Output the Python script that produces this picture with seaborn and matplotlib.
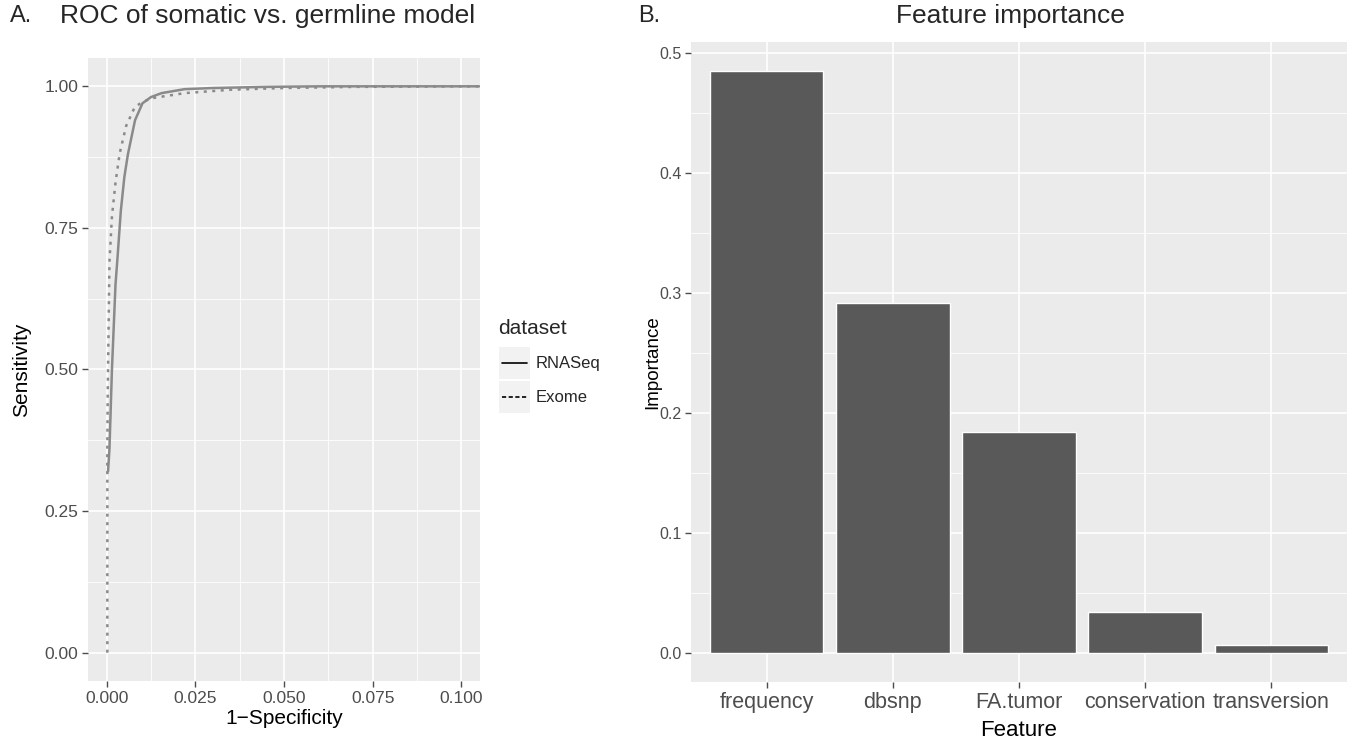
import numpy as np
import pandas as pd
import seaborn as sns
import matplotlib.pyplot as plt
from matplotlib.lines import Line2D
from matplotlib.patches import Rectangle
from matplotlib.ticker import MultipleLocator, FormatStrFormatter

# ROC curves (1-specificity, sensitivity)
rnaseq_fpr = [0.0004, 0.0008, 0.0015, 0.0025, 0.0031, 0.0040, 0.0050, 0.0060, 0.0080,
              0.0101, 0.0125, 0.0155, 0.0220, 0.0300, 0.0450, 0.0600, 0.1050]
rnaseq_tpr = [0.32, 0.36, 0.50, 0.65, 0.70, 0.78, 0.84, 0.88, 0.94,
              0.970, 0.981, 0.988, 0.995, 0.997, 0.999, 1.000, 1.000]
exome_fpr = [0.0002, 0.0002, 0.0003, 0.0005, 0.0008, 0.0015, 0.0025, 0.0037, 0.0055,
             0.0079, 0.0100, 0.0127, 0.0220, 0.0350, 0.0500, 0.0700, 0.1050]
exome_tpr = [0.00, 0.35, 0.45, 0.55, 0.69, 0.77, 0.83, 0.882, 0.93,
             0.963, 0.972, 0.979, 0.988, 0.994, 0.997, 0.999, 1.000]
datasets = ["RNASeq", "Exome"]

# feature importance, right panel
features = ["frequency", "dbsnp", "FA.tumor", "conservation", "transversion"]
importance = [0.485, 0.292, 0.184, 0.034, 0.007]

sns.set_theme(style="darkgrid", rc={
    "axes.facecolor": "#EBEBEB",
    "grid.color": "white",
    "xtick.major.size": 4, "ytick.major.size": 4,
    "xtick.color": "#4D4D4D", "ytick.color": "#4D4D4D",
    "xtick.major.width": 1.0, "ytick.major.width": 1.0,
    "xtick.bottom": True, "ytick.left": True,
})
plt.rcParams["font.family"] = ["Liberation Sans", "DejaVu Sans"]

roc = pd.concat([
    pd.DataFrame({"fpr": rnaseq_fpr, "tpr": rnaseq_tpr, "dataset": "RNASeq"}),
    pd.DataFrame({"fpr": exome_fpr, "tpr": exome_tpr, "dataset": "Exome"}),
])
imp = pd.DataFrame({"Feature": features, "Importance": importance})

W, H = 1354, 739
fig = plt.figure(figsize=(W / 100, H / 100), dpi=100)

def box(l, r, t, b):
    return [l / W, 1 - b / H, (r - l) / W, (b - t) / H]

# ---- A. ROC
ax1 = fig.add_axes(box(88, 480, 58, 681))
sns.lineplot(data=roc, x="fpr", y="tpr", style="dataset", style_order=datasets,
             dashes={"RNASeq": "", "Exome": (1.2, 2.2)}, color="#8A8A8A",
             linewidth=1.8, sort=False, estimator=None, legend=False, ax=ax1)
ax1.set_xlim(-0.00525, 0.10525)
ax1.set_ylim(-0.05, 1.05)
ax1.xaxis.set_major_locator(MultipleLocator(0.025))
ax1.xaxis.set_minor_locator(MultipleLocator(0.0125))
ax1.yaxis.set_major_locator(MultipleLocator(0.25))
ax1.yaxis.set_minor_locator(MultipleLocator(0.125))
ax1.xaxis.set_major_formatter(FormatStrFormatter("%.3f"))
ax1.yaxis.set_major_formatter(FormatStrFormatter("%.2f"))
ax1.tick_params(labelsize=12.5, pad=3)
ax1.set_xlabel("1\u2212Specificity", fontsize=15, color="black")
ax1.set_ylabel("Sensitivity", fontsize=15, color="black")
ax1.xaxis.set_label_coords(0.5, -0.06)
ax1.yaxis.set_label_coords(-0.17, 0.5)

# legend for A
for y0 in (346, 380):
    fig.add_artist(Rectangle((499 / W, 1 - (y0 + 33) / H), 31 / W, 32 / H,
                             transform=fig.transFigure, color="#F2F2F2", lw=0))
fig.text(498 / W, 1 - 329 / H, "dataset", fontsize=15, va="center", ha="left")
fig.text(536 / W, 1 - 363 / H, "RNASeq", fontsize=12, va="center", ha="left")
fig.text(536 / W, 1 - 397 / H, "Exome", fontsize=12, va="center", ha="left")
fig.add_artist(Line2D([502 / W, 527 / W], [1 - 363 / H] * 2, color="black", lw=1.2))
fig.add_artist(Line2D([502 / W, 527 / W], [1 - 397 / H] * 2, color="black", lw=1.2,
                      ls=(0, (2.5, 1.5))))

# ---- B. feature importance
ax2 = fig.add_axes(box(691, 1347, 42, 682))
sns.barplot(data=imp, x="Feature", y="Importance", order=features,
            color="#595959", saturation=1, width=0.9, ax=ax2)
ax2.set_xlim(-0.6, 4.6)
ax2.set_ylim(-0.02425, 0.50925)
ax2.yaxis.set_major_locator(MultipleLocator(0.1))
ax2.yaxis.set_minor_locator(MultipleLocator(0.05))
ax2.yaxis.set_major_formatter(FormatStrFormatter("%.1f"))
ax2.tick_params(axis="y", labelsize=11.5, pad=3)
ax2.tick_params(axis="x", labelsize=15.5, pad=3)
ax2.set_xlabel("Feature", fontsize=16, color="black")
ax2.set_ylabel("Importance", fontsize=13.5, color="black")
ax2.xaxis.set_label_coords(0.5, -0.075)
ax2.yaxis.set_label_coords(-0.058, 0.5)

for ax in (ax1, ax2):
    ax.grid(which="major", color="white", lw=1.2)
    ax.grid(which="minor", color="white", lw=0.6)
    ax.xaxis.label.set_va("center")
    ax.yaxis.label.set_va("center")
    ax.tick_params(which="minor", length=0)
    for s in ax.spines.values():
        s.set_visible(False)
    ax.set_axisbelow(True)
ax2.grid(axis="x", which="minor", visible=False)

# titles
fig.text(10 / W, 1 - 16 / H, "A.", fontsize=17, va="center", ha="left")
fig.text(60 / W, 1 - 16 / H, "ROC of somatic vs. germline model", fontsize=19,
         va="center", ha="left")
fig.text(638 / W, 1 - 16 / H, "B.", fontsize=17, va="center", ha="left")
fig.text(1010 / W, 1 - 16 / H, "Feature importance", fontsize=19, va="center", ha="center")

fig.savefig("out.png", dpi=100)
